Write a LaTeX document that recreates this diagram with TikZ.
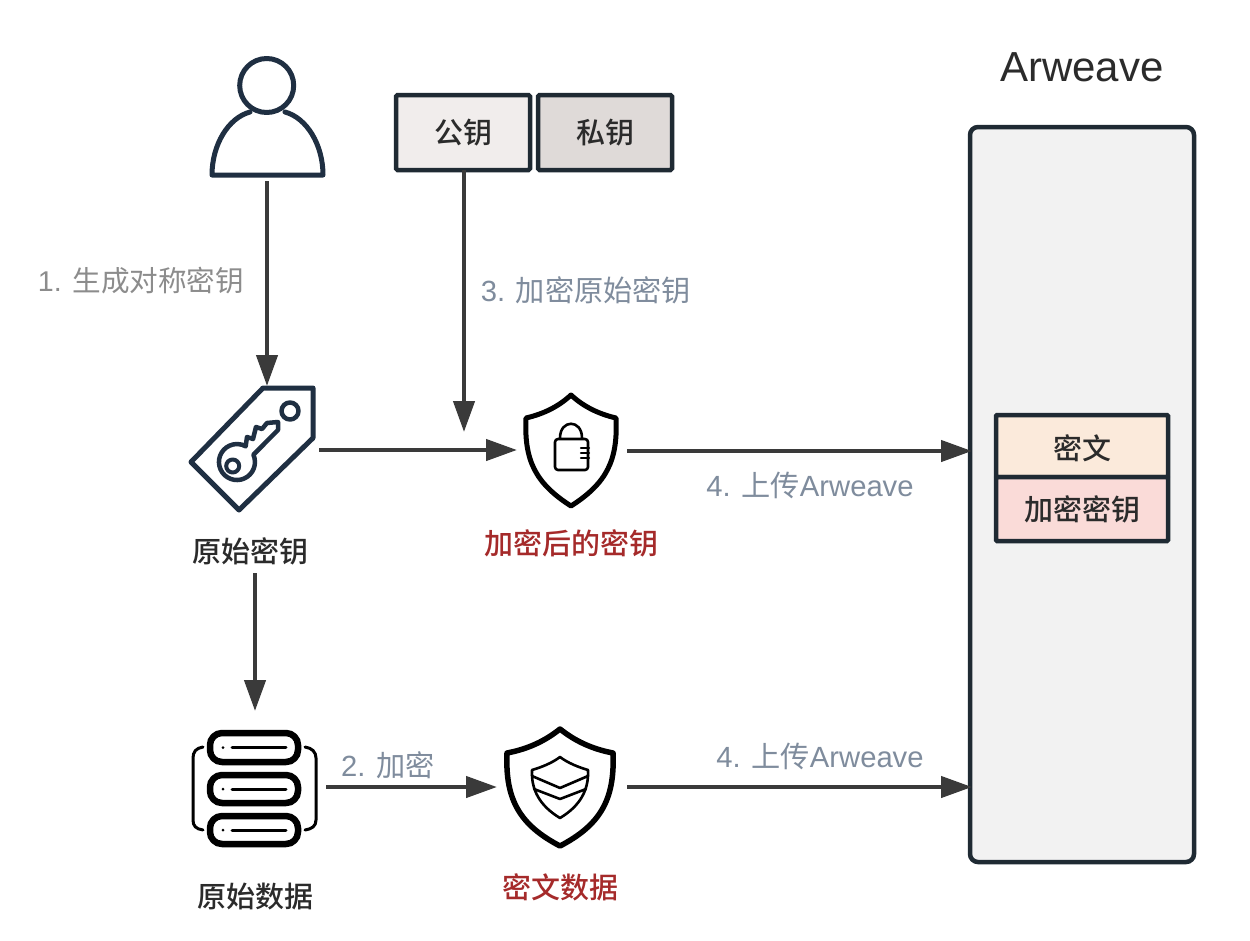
\documentclass[tikz,border=0pt]{standalone}
\usepackage{fontspec}
\setmainfont{Liberation Sans}
\newfontfamily\cjk{Noto Sans CJK SC}
\newfontfamily\cjkm{Noto Sans CJK SC Medium}
\usetikzlibrary{arrows.meta}
\definecolor{iconnavy}{HTML}{1F2F42}
\definecolor{arrowgrey}{HTML}{3A3A3A}
\definecolor{labelgrey}{HTML}{8C8C8C}
\definecolor{labelslate}{HTML}{7F8C9D}
\definecolor{darkred}{HTML}{A52A2A}
\definecolor{boxedge}{HTML}{1F2A33}
\definecolor{pubfill}{HTML}{F1EDEC}
\definecolor{privfill}{HTML}{DFDAD8}
\definecolor{panelfill}{HTML}{F2F2F2}
\definecolor{orangefill}{HTML}{FBEADB}
\definecolor{pinkfill}{HTML}{FADBD8}
\definecolor{textdark}{HTML}{2B2B2B}
\tikzset{
  x=1pt,y=-1pt,
  conn/.style={draw=arrowgrey,line width=4.3pt,-{Triangle[length=31pt,width=21pt]}},
  navy/.style={draw=iconnavy,line width=5pt,line join=round,line cap=round},
  blackicon/.style={draw=black,line join=round,line cap=round},
  stepnote/.style={font=\fontsize{29.2}{32}\selectfont,anchor=center},
  caption/.style={font=\fontsize{29}{32}\selectfont\cjkm,anchor=center},
  keybox/.style={draw=boxedge,line width=4.5pt,rounded corners=1.5pt,text=textdark,font=\fontsize{29}{32}\selectfont\cjkm,inner sep=0pt,outer sep=0pt,anchor=north west,minimum width=134pt,minimum height=75pt},
  stackbox/.style={draw=boxedge,line width=4.5pt,rounded corners=1pt,text=textdark,font=\fontsize{29}{32}\selectfont\cjkm,inner sep=0pt,outer sep=0pt,anchor=north west,minimum width=172pt,minimum height=63pt},
}
\begin{document}
\begin{tikzpicture}
\useasboundingbox (0,0) rectangle (1250,940);
\fill[white] (0,0) rectangle (1250,940);

% person
\draw[navy] (266.7,85.5) circle (27);
\draw[navy] (250,112) .. controls (228,118) and (212,145) .. (212,175) -- (323,175) .. controls (323,145) and (307,118) .. (285,112);
\coordinate (personout) at (267,181);
\coordinate (keyin) at (267,386);

% key tag
\draw[navy] (263,388) -- (313,388) -- (313,438) -- (239,510) -- (191,462) -- cycle;
\draw[navy,line width=4.5pt] (290,411) circle (8.5);
\draw[navy,line width=4pt] (232.7,466) circle (6.5);
\draw[navy,line width=4.5pt] (253.4,454.7)
  arc[start angle=-24,end angle=299,radius=18] -- (247,437) -- (253,439) -- (256,427) -- (262,429) -- (267,423) -- (278,422) -- (278,430) -- cycle;
\node[caption,text=textdark] (origkey) at (250,551) {原始密钥};

% key boxes
\node[keybox,fill=pubfill] (pub) at (396,95) {公钥};
\node[keybox,fill=privfill] (priv) at (538,95) {私钥};

% Arweave panel
\node[font=\fontsize{42}{46}\selectfont,text=textdark] (artitle) at (1082,67) {Arweave};
\node[draw=boxedge,line width=4.5pt,fill=panelfill,rounded corners=8pt,minimum width=224pt,minimum height=735pt,anchor=north west,inner sep=0pt,outer sep=0pt] (panel) at (970,127) {};
\node[stackbox,fill=orangefill,minimum height=62pt] (cipher) at (996,415) {\raisebox{0pt}[31pt][3.5pt]{密文}};
\node[stackbox,fill=pinkfill,minimum height=64pt] (enckey) at (996,477) {加密密钥};

% shield with lock
\draw[blackicon,line width=5pt] (571,395) .. controls (558,407) and (543,414) .. (526,418) .. controls (524,460) and (535,483) .. (571,506) .. controls (607,483) and (618,460) .. (616,418) .. controls (599,414) and (584,407) .. (571,395) -- cycle;
\draw[blackicon,line width=2.6pt,rounded corners=3pt] (555,439) rectangle (588,470);
\draw[blackicon,line width=2.6pt] (560,438) .. controls (560,419) and (582,419) .. (582,438);
\draw[blackicon,line width=2.4pt] (581,448) -- (589,448) (581,453) -- (589,453) (581,458) -- (589,458);
\node[caption,text=darkred] (enckeycap) at (571,543) {加密后的密钥};

% database icon
\draw[blackicon,line width=6.5pt,rounded corners=12pt] (210,733) rectangle (298,762);
\draw[blackicon,line width=6.5pt,rounded corners=12pt] (210,775) rectangle (298,803);
\draw[blackicon,line width=6.5pt,rounded corners=12pt] (210,816) rectangle (298,844);
\foreach \yy in {747.5,789,830}{
  \fill (223,\yy) circle (1.5);
  \draw[blackicon,line width=3pt] (232,\yy) -- (286,\yy);
}
\draw[blackicon,line width=3pt] (203,747) .. controls (196,748) and (193,752) .. (193,758) -- (193,820) .. controls (193,826) and (196,829) .. (203,830);
\draw[blackicon,line width=3pt] (305,747) .. controls (312,748) and (316,752) .. (316,758) -- (316,820) .. controls (316,826) and (312,829) .. (305,830);
\node[caption,text=textdark] (origdata) at (255,897) {原始数据};

% shield with layers
\draw[blackicon,line width=5.5pt] (560,729) .. controls (545,741) and (528,749) .. (507,753) .. controls (505,800) and (520,825) .. (560,846) .. controls (600,825) and (615,800) .. (613,753) .. controls (592,749) and (575,741) .. (560,729) -- cycle;
\draw[blackicon,line width=2.6pt] (560,757) .. controls (552,763) and (542,767) .. (532,770) .. controls (531,790) and (540,806) .. (560,818) .. controls (580,806) and (589,790) .. (588,770) .. controls (578,767) and (568,763) .. (560,757) -- cycle;
\draw[blackicon,line width=2.6pt] (532,776) -- (560,788) -- (588,776);
\draw[blackicon,line width=2.6pt] (534,789) -- (560,799) -- (586,789);
\node[caption,text=darkred] (ciphercap) at (560,887) {密文数据};

% connectors
\coordinate (keyout) at (319,450);
\coordinate (lockin) at (517,450);
\coordinate (junction) at (464,432);
\coordinate (lockout) at (627,451);
\coordinate (panelin1) at (972,451);
\coordinate (capdown) at (255,573);
\coordinate (datain) at (255,711);
\coordinate (dataout) at (326,787);
\coordinate (cipherin) at (497,787);
\coordinate (cipherout) at (627,787);
\coordinate (panelin2) at (972,787);
\draw[conn] (personout) -- (keyin);
\draw[conn] (pub.south -| junction) -- (junction);
\draw[conn] (keyout) -- (lockin);
\draw[conn] (lockout) -- (panelin1);
\draw[conn] (capdown) -- (datain);
\draw[conn] (dataout) -- (cipherin);
\draw[conn] (cipherout) -- (panelin2);

% step labels
\node[stepnote,font=\fontsize{28.6}{32}\selectfont,text=labelgrey] (l1) at (141,281) {1. {\cjk 生成对称密钥}};
\node[stepnote,text=labelslate] (l3) at (586,290) {3. {\cjk 加密原始密钥}};
\node[stepnote,text=labelslate] (l4a) at (810,485) {4. {\cjk 上传}Arweave};
\node[stepnote,text=labelslate] (l2) at (388,765) {2. {\cjk 加密}};
\node[stepnote,text=labelslate] (l4b) at (820,756) {4. {\cjk 上传}Arweave};
\end{tikzpicture}
\end{document}
